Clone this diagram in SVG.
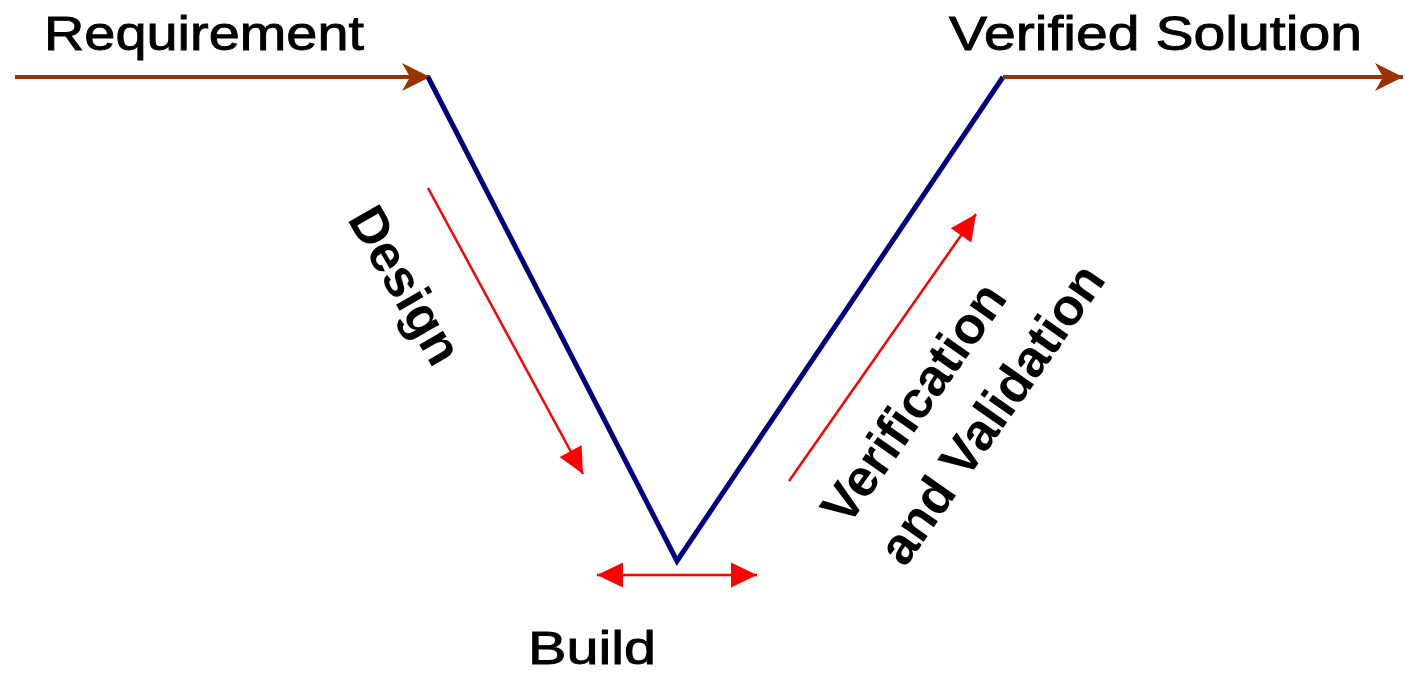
<svg xmlns="http://www.w3.org/2000/svg" width="1405" height="674" viewBox="0 0 1405 674">
<style>
.lbl{font-family:"Liberation Sans",Arial,sans-serif;font-size:52px;fill:#000}
.r{font-size:49px;stroke:#000;stroke-width:0.9px}
.b{font-weight:bold}
.brown{stroke:#993300;stroke-width:4;fill:none}
.navy{stroke:#000080;stroke-width:5;fill:none;stroke-linejoin:miter}
.red{stroke:#ff0000;stroke-width:2.5;fill:none}
</style>
<defs>
<marker id="brownHead" markerUnits="userSpaceOnUse" markerWidth="32" markerHeight="32" viewBox="-30 -16 32 32" refX="0" refY="0" orient="auto">
<path d="M0,0 L-28,-14 L-20,0 L-28,14 Z" fill="#993300"/>
</marker>
<marker id="redHead" markerUnits="userSpaceOnUse" markerWidth="30" markerHeight="30" viewBox="-28 -14 30 28" refX="0" refY="0" orient="auto-start-reverse">
<path d="M0,0 L-26,-12.5 L-26,12.5 Z" fill="#ff0000"/>
</marker>
</defs>
<g id="connectors">
<line class="brown" x1="15" y1="77" x2="430" y2="77" marker-end="url(#brownHead)"/>
<polyline class="navy" points="428,77 677,561 1003,77"/>
<line class="brown" x1="1003" y1="77" x2="1403" y2="77" marker-end="url(#brownHead)"/>
<line class="red" x1="428" y1="188" x2="583" y2="474" marker-end="url(#redHead)"/>
<line class="red" x1="789" y1="481" x2="976" y2="214" marker-end="url(#redHead)"/>
<line class="red" x1="597" y1="575" x2="757" y2="575" marker-start="url(#redHead)" marker-end="url(#redHead)"/>
</g>
<g id="requirement"><text class="lbl r" x="44" y="50" textLength="320" lengthAdjust="spacingAndGlyphs">Requirement</text></g>
<g id="verified-solution"><text class="lbl r" x="949" y="50" textLength="413" lengthAdjust="spacingAndGlyphs">Verified Solution</text></g>
<g id="build"><text class="lbl r" x="528" y="664" style="font-size:47px" textLength="128" lengthAdjust="spacingAndGlyphs">Build</text></g>
<g id="design"><text class="lbl b" text-anchor="middle" transform="translate(390,294) rotate(60)">Design</text></g>
<g id="vv">
<text class="lbl b" text-anchor="middle" transform="translate(928,413) rotate(-55)">Verification</text>
<text class="lbl b" text-anchor="middle" transform="translate(1006,424) rotate(-55)">and Validation</text>
</g>
</svg>
